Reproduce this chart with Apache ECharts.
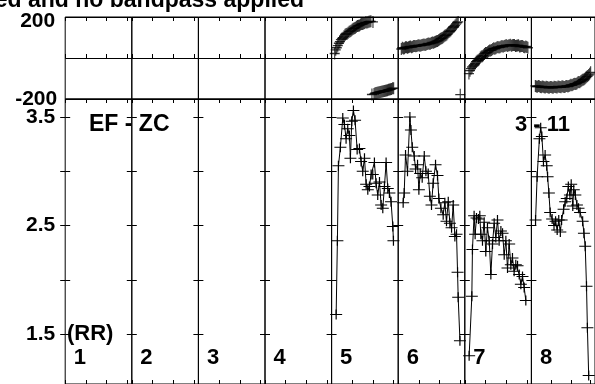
<!DOCTYPE html>
<html><head><meta charset="utf-8">
<script src="https://cdn.jsdelivr.net/npm/echarts@6/dist/echarts.min.js"></script>
<style>html,body{margin:0;padding:0;background:#fff}#c{width:595px;height:384px}</style>
</head><body><div id="c"></div>
<script>
// ---- data (channel, value) ----
const panelLabels = ['1','2','3','4','5','6','7','8'];
const chanTicks = [0, 20, 40, 60];
const phaseLabelValues = [-200, 200];
const ampTickValues = [1.5, 2, 2.5, 3, 3.5];
const ampLabelValues = [1.5, 2.5, 3.5];

const ph5 = [[3,22],[4,40],[5,50],[6,60],[7,72],[8,80],[9,90],[10,95],[11,99],[12,106],[13,113],[14,117],[15,118],[16,123],[17,128],[18,131],[19,134],[20,139],[21,143],[22,145],[23,148],[24,152],[25,156],[26,157],[27,159],[28,163],[29,166],[30,166],[31,168],[32,171],[33,174],[34,173],[35,175],[36,177],[37,178],[38,179],[39,-178],[40,176],[41,-176],[42,-172],[43,-171],[44,-170],[45,-168],[46,-167],[47,-166],[48,-165],[49,-163],[50,-162],[51,-161],[52,-160],[53,-159],[54,-157],[55,-155],[56,-154],[57,-153],[58,-151],[59,-148],[60,-147]];
const ph6 = [[3,44],[4,50],[5,46],[6,48],[7,52],[8,53],[9,50],[10,52],[11,55],[12,56],[13,53],[14,55],[15,58],[16,59],[17,57],[18,58],[19,61],[20,62],[21,60],[22,61],[23,63],[24,65],[25,66],[26,64],[27,66],[28,68],[29,71],[30,69],[31,70],[32,73],[33,76],[34,74],[35,77],[36,79],[37,82],[38,83],[39,86],[40,90],[41,94],[42,96],[43,99],[44,104],[45,109],[46,111],[47,115],[48,121],[49,127],[50,130],[51,135],[52,142],[53,149],[54,153],[55,158],[56,165],[57,172],[58,176],[60,-179]];
const ph7 = [[4,-76],[5,-62],[6,-52],[7,-44],[8,-38],[9,-33],[10,-26],[11,-18],[12,-13],[13,-11],[14,-6],[15,2],[16,7],[17,9],[18,13],[19,20],[20,24],[21,25],[22,28],[23,33],[24,37],[25,37],[26,39],[27,44],[28,47],[29,45],[30,48],[31,51],[32,54],[33,51],[34,53],[35,56],[36,59],[37,55],[38,58],[39,60],[40,63],[41,59],[42,61],[43,62],[44,65],[45,60],[46,62],[47,63],[48,64],[49,58],[50,60],[51,61],[52,62],[53,56],[54,57],[55,59],[56,58],[57,54],[58,53],[59,56],[60,54],[61,50]];
const ph8 = [[4,-136],[5,-139],[6,-140],[7,-137],[8,-138],[9,-141],[10,-143],[11,-139],[12,-140],[13,-143],[14,-144],[15,-140],[16,-141],[17,-144],[18,-145],[19,-141],[20,-142],[21,-144],[22,-145],[23,-140],[24,-141],[25,-143],[26,-144],[27,-139],[28,-140],[29,-142],[30,-143],[31,-138],[32,-139],[33,-141],[34,-141],[35,-137],[36,-136],[37,-139],[38,-137],[39,-134],[40,-131],[41,-133],[42,-131],[43,-127],[44,-125],[45,-127],[46,-124],[47,-120],[48,-117],[49,-118],[50,-114],[51,-110],[52,-106],[53,-105],[54,-101],[55,-96],[56,-91],[57,-88],[58,-83],[59,-77],[60,-70]];

const amp5 = [[4.4,1.68],[5.6,2.36],[6.6,3.05],[8.5,3.22],[10.8,3.49],[12.4,3.43],[14.0,3.30],[15.6,3.39],[17.2,3.33],[18.2,3.12],[19.5,3.46],[21.1,3.56],[22.7,3.47],[24.7,3.20],[26.9,3.21],[28.5,3.09],[30.1,3.00],[31.8,3.12],[33.4,2.88],[35.0,2.83],[36.6,2.86],[38.2,2.97],[39.8,2.97],[41.4,3.08],[43.0,2.89],[44.6,2.78],[46.3,2.90],[47.9,2.69],[49.5,2.66],[51.1,2.86],[52.7,3.08],[54.3,2.84],[55.9,2.80],[57.5,2.72],[59.2,2.49],[59.8,2.36]];
const amp6 = [[4.8,2.71],[5.8,2.80],[7.1,3.15],[9.0,3.00],[11.3,3.50],[12.3,3.38],[13.6,3.22],[15.5,3.14],[16.8,3.02],[18.7,3.06],[20.0,2.83],[21.3,2.98],[23.2,2.94],[25.2,3.14],[26.8,3.00],[29.0,2.98],[30.6,2.77],[32.2,2.69],[33.8,2.89],[36.1,3.06],[38.0,2.96],[39.3,2.75],[41.3,2.66],[43.5,2.60],[45.1,2.71],[46.7,2.54],[48.4,2.72],[50.0,2.52],[51.6,2.48],[53.2,2.69],[54.8,2.40],[56.4,2.42],[57.4,2.07],[58.0,1.84],[59.7,1.44]];
const amp7 = [[4.2,1.30],[6.8,1.85],[7.4,2.28],[9.0,2.59],[10.0,2.42],[11.3,2.57],[13.2,2.56],[14.5,2.59],[15.5,2.42],[17.1,2.36],[18.7,2.53],[20.3,2.26],[21.9,2.48],[23.6,2.36],[25.2,2.05],[26.8,2.33],[28.4,2.52],[30.0,2.39],[31.6,2.55],[33.2,2.36],[34.9,2.45],[36.5,2.43],[38.1,2.23],[39.7,2.36],[41.3,2.11],[42.9,2.33],[44.5,2.14],[46.1,2.20],[47.7,2.08],[49.3,2.14],[51.0,2.13],[52.6,2.05],[54.2,1.96],[55.8,2.03],[57.4,1.93],[59.0,1.81]];
const amp8 = [[4.2,2.55],[5.8,2.95],[8.1,3.30],[9.4,3.40],[10.6,3.32],[12.2,3.09],[13.9,3.15],[15.5,3.05],[16.4,2.95],[17.7,2.80],[19.0,2.62],[21.0,2.56],[22.9,2.50],[24.5,2.54],[26.1,2.46],[27.7,2.55],[29.3,2.44],[30.6,2.55],[32.6,2.65],[34.2,2.72],[35.8,2.75],[37.4,2.86],[39.0,2.78],[40.3,2.88],[41.9,2.68],[42.9,2.83],[44.5,2.78],[46.1,2.69],[47.7,2.66],[49.3,2.62],[51.9,2.54],[53.2,2.43],[54.5,2.31],[55.8,1.94],[56.7,1.56],[58.0,1.12]];

const phases = [null, null, null, null, ph5, ph6, ph7, ph8];
const amps = [null, null, null, null, amp5, amp6, amp7, amp8];

// ---- layout ----
const X0 = 65.2, PW = 66.6;
const FONT = 'Liberation Sans';
const PLUS = 'path://M0,5L10,5M5,0L5,10';
const tickStyle = {color: '#000', width: 1};

const grids = [], xAxes = [], yAxes = [], series = [];
for (let i = 0; i < 8; i++) {
  const left = X0 + i * PW;
  grids.push({left: left, top: 17, width: PW, height: 82, show: true, borderColor: '#000', borderWidth: 1, backgroundColor: 'transparent'});
  grids.push({left: left, top: 99, width: PW, height: 286, show: true, borderColor: '#000', borderWidth: 1, backgroundColor: 'transparent'});
  const gt = 2 * i, gb = 2 * i + 1;
  [[gt, 'bottom'], [gt, 'top'], [gb, 'top'], [gb, 'bottom']].forEach(function (p) {
    xAxes.push({type: 'value', gridIndex: p[0], position: p[1], min: 0, max: 64.4,
      axisLine: {show: false},
      axisTick: {show: true, inside: true, length: 4, customValues: chanTicks, lineStyle: tickStyle},
      axisLabel: {show: false}, splitLine: {show: false}});
  });
  const labelFont = {fontFamily: FONT, fontWeight: 'bold', fontSize: 21, color: '#000'};
  yAxes.push({type: 'value', gridIndex: gt, min: -200, max: 200, interval: 200,
    axisLine: {show: false}, axisTick: {show: false},
    splitLine: {show: true, lineStyle: {color: '#000', width: 1}},
    axisLabel: {show: i === 0, margin: 8, customValues: phaseLabelValues,
      formatter: function (v) { return v > 0 ? '{t|' + v + '}' : '{b|' + v + '}'; },
      rich: {t: Object.assign({padding: [9, 2, 0, 0]}, labelFont), b: Object.assign({}, labelFont)}}});
  yAxes.push({type: 'value', gridIndex: gb, position: 'left', min: 1.041, max: 3.665,
    axisLine: {show: false}, splitLine: {show: false},
    axisTick: {show: true, inside: true, length: 5, customValues: ampTickValues, lineStyle: tickStyle},
    axisLabel: Object.assign({show: i === 0, margin: 10, customValues: ampLabelValues, padding: [3, 0, 0, 0],
      formatter: function (v) { return v.toFixed(1); }}, labelFont)});
  yAxes.push({type: 'value', gridIndex: gb, position: 'right', min: 1.041, max: 3.665,
    axisLine: {show: false}, splitLine: {show: false},
    axisTick: {show: true, inside: true, length: 5, customValues: ampTickValues, lineStyle: tickStyle},
    axisLabel: {show: false}});

  if (phases[i]) {
    series.push({type: 'scatter', xAxisIndex: 4 * i, yAxisIndex: 3 * i, data: phases[i],
      symbol: PLUS, symbolSize: [10, 12], silent: true,
      itemStyle: {color: '#000', borderColor: '#000', borderWidth: 1.2}});
  }
  if (amps[i]) {
    series.push({type: 'line', xAxisIndex: 4 * i + 3, yAxisIndex: 3 * i + 1, data: amps[i],
      symbol: PLUS, symbolSize: [12, 10], showSymbol: true, showAllSymbol: true, silent: true,
      lineStyle: {color: '#000', width: 1},
      itemStyle: {color: '#000', borderColor: '#000', borderWidth: 1.1}});
  }
}

const txtFont = 'bold 22px "' + FONT + '"';
const graphics = [
  {type: 'text', x: 304, y: 1, z: 100, style: {text: 'ed and no bandpass applied', align: 'right', verticalAlign: 'middle', font: 'bold 23px "' + FONT + '"', fill: '#000'}},
  {type: 'text', x: 89, y: 125, z: 100, style: {text: 'EF - ZC', align: 'left', verticalAlign: 'middle', font: 'bold 23px "' + FONT + '"', fill: '#000'}},
  {type: 'text', x: 515, y: 125, z: 100, style: {text: '3 - 11', align: 'left', verticalAlign: 'middle', font: txtFont, fill: '#000'}},
  {type: 'text', x: 67, y: 334, z: 100, style: {text: '(RR)', align: 'left', verticalAlign: 'middle', font: txtFont, fill: '#000'}}
];
panelLabels.forEach(function (t, i) {
  graphics.push({type: 'text', x: X0 + i * PW + 8.5, y: 357.5, z: 100,
    style: {text: t, align: 'left', verticalAlign: 'middle', font: txtFont, fill: '#000'}});
});

const chart = echarts.init(document.getElementById('c'), null, {renderer: 'canvas'});
chart.setOption({
  animation: false,
  backgroundColor: '#fff',
  grid: grids, xAxis: xAxes, yAxis: yAxes, series: series,
  graphic: graphics
});
</script>
</body></html>
